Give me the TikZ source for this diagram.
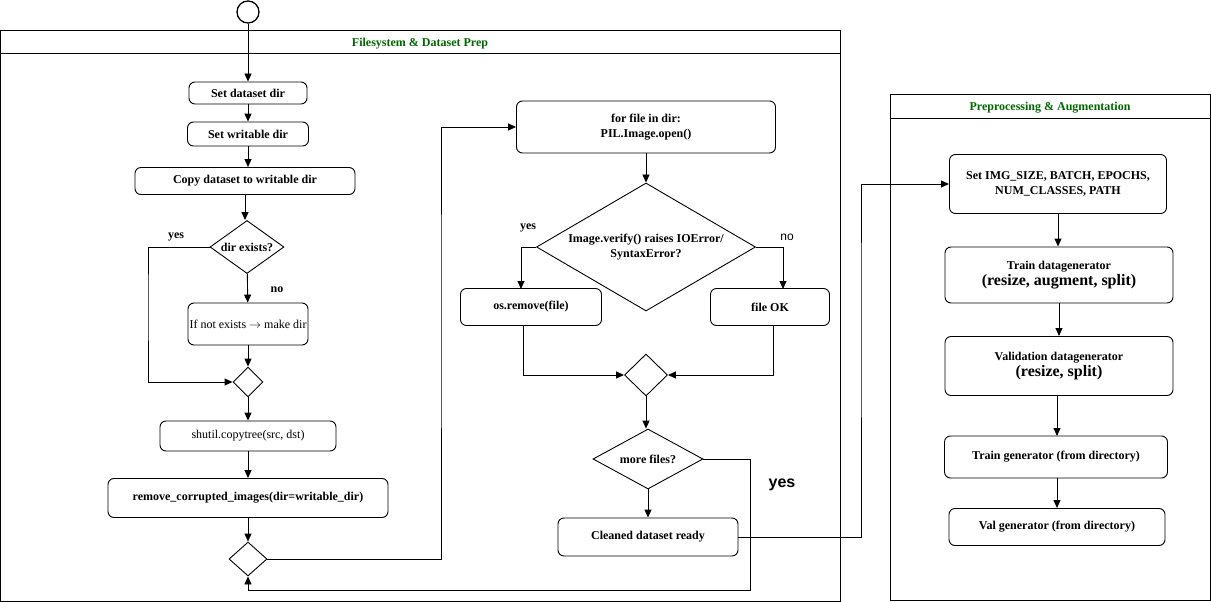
\documentclass[tikz,border=0pt]{standalone}
\usepackage{fontspec}
\setmainfont{Liberation Serif}
\setsansfont{Liberation Sans}
\usepackage{tikz}
\usetikzlibrary{arrows.meta,positioning,calc,shapes.geometric}
\definecolor{laneTitle}{HTML}{006600}
\newcommand{\sizeup}{\fontsize{16}{18}\selectfont}
\tikzset{
  act/.style 2 args={draw, rounded corners=6pt, line width=0.9pt, align=center, inner sep=1pt,
    font=\fontsize{12}{15}\selectfont\bfseries, minimum width=#1, minimum height=#2},
  plain/.style={font=\fontsize{12}{15}\selectfont\mdseries},
  dec/.style n args={3}{draw, diamond, line width=0.9pt, inner sep=0pt, align=center,
    font=\fontsize{12}{15}\selectfont\bfseries, minimum width=#1, minimum height=#2, aspect=#3},
  lane/.style={draw, line width=1pt},
  lanehead/.style={font=\fontsize{12}{15}\selectfont\bfseries, text=laneTitle},
  lbl/.style={font=\fontsize{12}{15}\selectfont\bfseries, inner sep=0pt},
  flow/.style={-{Triangle[length=8pt,width=7pt]}, line width=0.9pt},
}
\begin{document}
\begin{tikzpicture}[x=1pt, y=-1pt]
\useasboundingbox (0,0) rectangle (1211,602);
% --- lanes
\draw[lane] (0,31) rectangle (840,601);
\draw[lane] (0,54) -- (840,54);
\node[lanehead] (t1) at (420,44) {Filesystem \& Dataset Prep};
\draw[lane] (890,95) rectangle (1210,600);
\draw[lane] (890,118) -- (1210,118);
\node[lanehead] (t2) at (1050,108) {Preprocessing \& Augmentation};
% --- start
\node[draw, circle, line width=1.3pt, minimum size=22pt, inner sep=0pt] (start) at (248,12) {};
% --- left column
\node[act={118pt}{22pt}] (setds) at (248,93) {Set dataset dir};
\node[act={121pt}{24pt}] (setwr) at (248,134) {Set writable dir};
\node[act={220pt}{27pt}] (copy) at (245,181) {Copy dataset to writable dir};
\node[dec={74pt}{53pt}{1.40}] (exists) at (247,247) {dir exists?};
\node[act={120pt}{42pt}, plain] (mkdir) at (248,324) {If not exists $\rightarrow$ make dir};
\node[dec={30pt}{30pt}{1}] (m1) at (248,382) {};
\node[act={176pt}{30pt}, plain] (tree) at (248,436) {shutil.copytree(src, dst)};
\node[act={280pt}{39pt}] (rmcor) at (248,498) {remove\_corrupted\_images(dir=writable\_dir)};
\node[dec={38pt}{34pt}{1.12}] (m2) at (248,559) {};
\node[lbl] (lyes1) at (176,237) {yes};
\node[lbl] (lno1) at (277,290) {no};
% --- middle column
\node[act={259pt}{52pt}] (loop) at (646,127) {for file in dir:\\PIL.Image.open()};
\node[dec={219pt}{128pt}{1.71}] (verify) at (646,247) {Image.verify() raises IOError/\\SyntaxError?};
\node[act={141pt}{37pt}] (osrm) at (531,307) {os.remove(file)};
\node[act={119pt}{37pt}] (fok) at (770,307) {file OK};
\node[dec={43pt}{42pt}{1.02}] (m3) at (646,375) {};
\node[dec={110pt}{60pt}{1.83}] (more) at (648,459) {more files?};
\node[act={180pt}{38pt}] (clean) at (648,537) {Cleaned dataset ready};
\node[lbl] (lyes2) at (528,228) {yes};
\node[font=\sffamily\fontsize{12}{14}\selectfont, inner sep=0pt] (lno2) at (787,237) {no};
\node[font=\sffamily\bfseries\fontsize{16}{18}\selectfont, inner sep=0pt] (lyes3) at (782,485) {yes};
% --- right column
\node[act={217pt}{59pt}] (params) at (1058,184) {Set IMG\_SIZE, BATCH, EPOCHS,\\NUM\_CLASSES, PATH};
\node[act={228pt}{56pt}] (trgen) at (1059,275) {Train datagenerator\\[1pt]{\sizeup (resize, augment, split)}};
\node[act={228pt}{59pt}] (vagen) at (1059,366) {Validation datagenerator\\[1pt]{\sizeup (resize, split)}};
\node[act={223pt}{42pt}] (trdir) at (1056,457) {Train generator (from directory)};
\node[act={216pt}{37pt}] (vadir) at (1057,527) {Val generator (from directory)};
% --- connectors, left
\draw[flow] (start) -- (setds);
\draw[flow] (setds) -- (setwr);
\draw[flow] (setwr) -- (setwr |- copy.north);
\draw[flow] (copy) -- (copy |- exists.north);
\draw[flow] (exists) -- (mkdir);
\draw[flow] (exists.west) -| (148,300) |- (m1.west);
\draw[flow] (mkdir) -- (m1);
\draw[flow] (m1) -- (tree);
\draw[flow] (tree) -- (rmcor);
\draw[flow] (rmcor) -- (m2);
\draw[flow] (m2.east) -| (441,300) |- (loop.west);
% --- connectors, middle
\draw[flow] (loop) -- (verify);
\draw[flow] (verify.west) -| (521,289);
\draw[flow] (verify.east) -| (783,289);
\draw[flow] (523,326) |- (m3.west);
\draw[flow] (773,326) |- (m3.east);
\draw[flow] (m3) -- (m3 |- more.north);
\draw[flow] (more) -- (clean);
\draw[flow] (more.east) -| (750,590) -| (m2.south);
\draw[flow] (clean.east) -| (861,300) |- (params.west);
% --- connectors, right
\draw[flow] (params) -- (params |- trgen.north);
\draw[flow] (trgen) -- (trgen |- vagen.north);
\draw[flow] (1057,396) -- (1057,436);
\draw[flow] (1057,478) -- (1057,508);
\end{tikzpicture}
\end{document}
